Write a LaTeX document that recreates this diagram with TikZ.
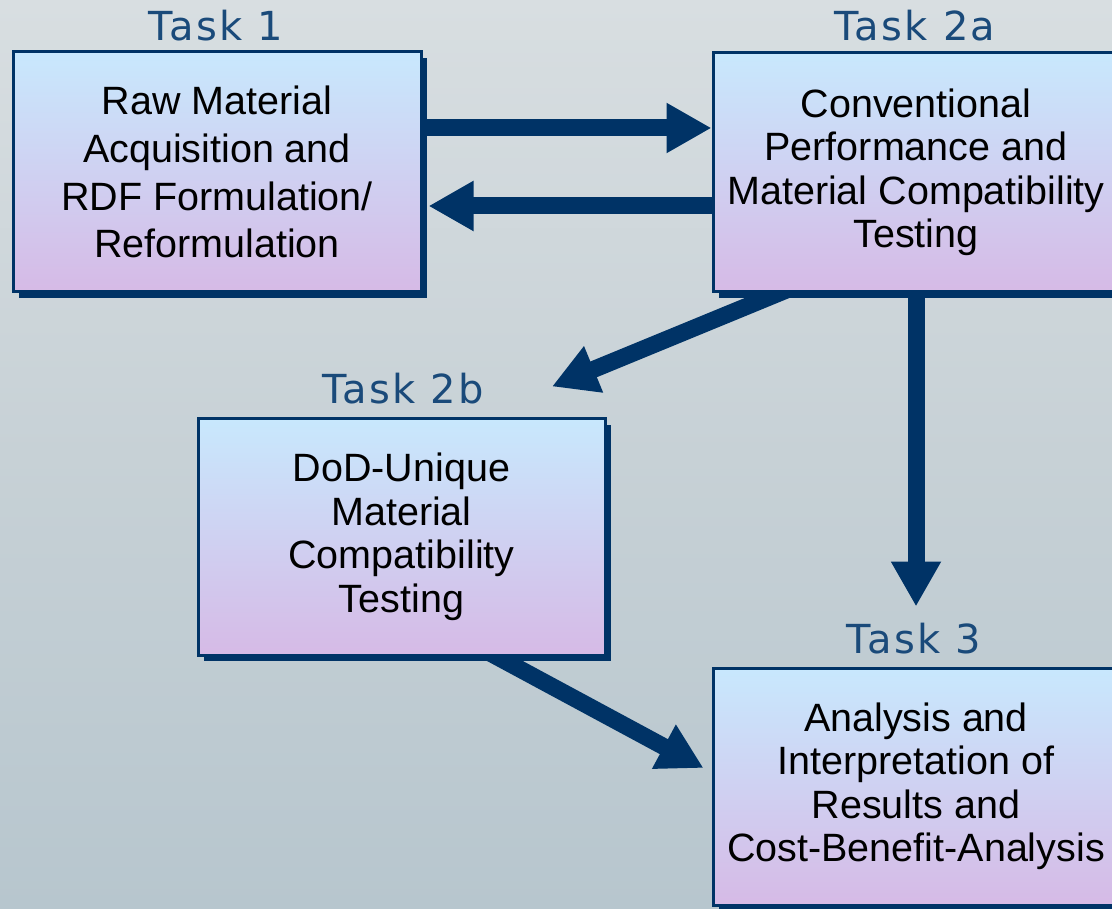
\documentclass[tikz,border=0pt]{standalone}
\usepackage{fontspec}
\setmainfont{Liberation Sans}
\newfontfamily\taskfont[LetterSpace=6]{DejaVu Sans}
\usetikzlibrary{arrows.meta,shadows}
\definecolor{navy}{RGB}{0,51,102}
\definecolor{tasknavy}{RGB}{26,74,122}
\definecolor{boxtop}{RGB}{200,232,253}
\definecolor{boxbot}{RGB}{214,186,230}
\definecolor{bgtop}{RGB}{216,222,225}
\definecolor{bgmid}{RGB}{199,209,214}
\definecolor{bgbot}{RGB}{183,198,206}
\pgfdeclarelayer{bg}
\pgfdeclarelayer{back}
\pgfsetlayers{bg,back,main}
\tikzset{
  taskbox/.style={draw=navy, line width=3pt, rectangle, inner sep=0pt,
    top color=boxtop, bottom color=boxbot, align=center,
    general shadow={fill=navy, shadow xshift=6pt, shadow yshift=-6pt}},
  boxtextA/.style={font=\fontsize{39.5}{47.8}\selectfont},
  boxtextB/.style={font=\fontsize{39.5}{43.5}\selectfont},
  tasklabel/.style={anchor=base, text=tasknavy, inner sep=0pt, font=\taskfont\fontsize{40}{44}\selectfont},
  bigarrow/.style={draw=navy, line width=17pt, -{Triangle[length=45pt,width=47pt]}}
}
\begin{document}
\begin{tikzpicture}[x=1pt,y=-1pt]
\useasboundingbox (0,0) rectangle (1112,909);
\clip (0,0) rectangle (1112,909);
\begin{pgfonlayer}{bg}
  \shade[top color=bgtop, bottom color=bgbot, middle color=bgmid] (0,0) rectangle (1112,909);
\end{pgfonlayer}

\node[taskbox, boxtextA, minimum width=408pt, minimum height=240pt] (t1) at (217,172)
  {Raw Material\\Acquisition and\\RDF Formulation/\\Reformulation};
\node[taskbox, boxtextB, minimum width=406pt, minimum height=239pt] (t2a) at (916,172.5)
  {Conventional\\Performance and\\Material Compatibility\\Testing};
\node[taskbox, boxtextB, minimum width=407pt, minimum height=236pt] (t2b) at (401.5,537)
  {DoD-Unique\\Material\\Compatibility\\Testing};
\node[taskbox, boxtextB, minimum width=406pt, minimum height=237pt] (t3) at (916,786.5)
  {Analysis and\\Interpretation of\\Results and\\Cost-Benefit-Analysis};

\node[tasklabel] (l1) at (216,40.7) {Task 1};
\node[tasklabel] (l2a) at (915,40.7) {Task 2a};
\node[tasklabel] (l2b) at (403,404) {Task 2b};
\node[tasklabel] (l3) at (914,653) {Task 3};

\begin{pgfonlayer}{back}
  \draw[bigarrow] ([xshift=-8pt,yshift=44pt]t1.east) -- ([yshift=44.5pt]t2a.west);
  \draw[bigarrow] ([xshift=8pt,yshift=-33.5pt]t2a.west) -- ([xshift=6pt,yshift=-34pt]t1.east);
  \draw[bigarrow] ([xshift=-121pt,yshift=7pt]t2a.south) -- ([xshift=150.5pt,yshift=31pt]t2b.north);
  \draw[bigarrow] ([yshift=7pt]t2a.south) -- ([yshift=60pt]t3.north);
  \draw[bigarrow] ([xshift=76.5pt,yshift=10pt]t2b.south) -- ([xshift=-8pt,yshift=18.5pt]t3.west);
\end{pgfonlayer}
\end{tikzpicture}
\end{document}
